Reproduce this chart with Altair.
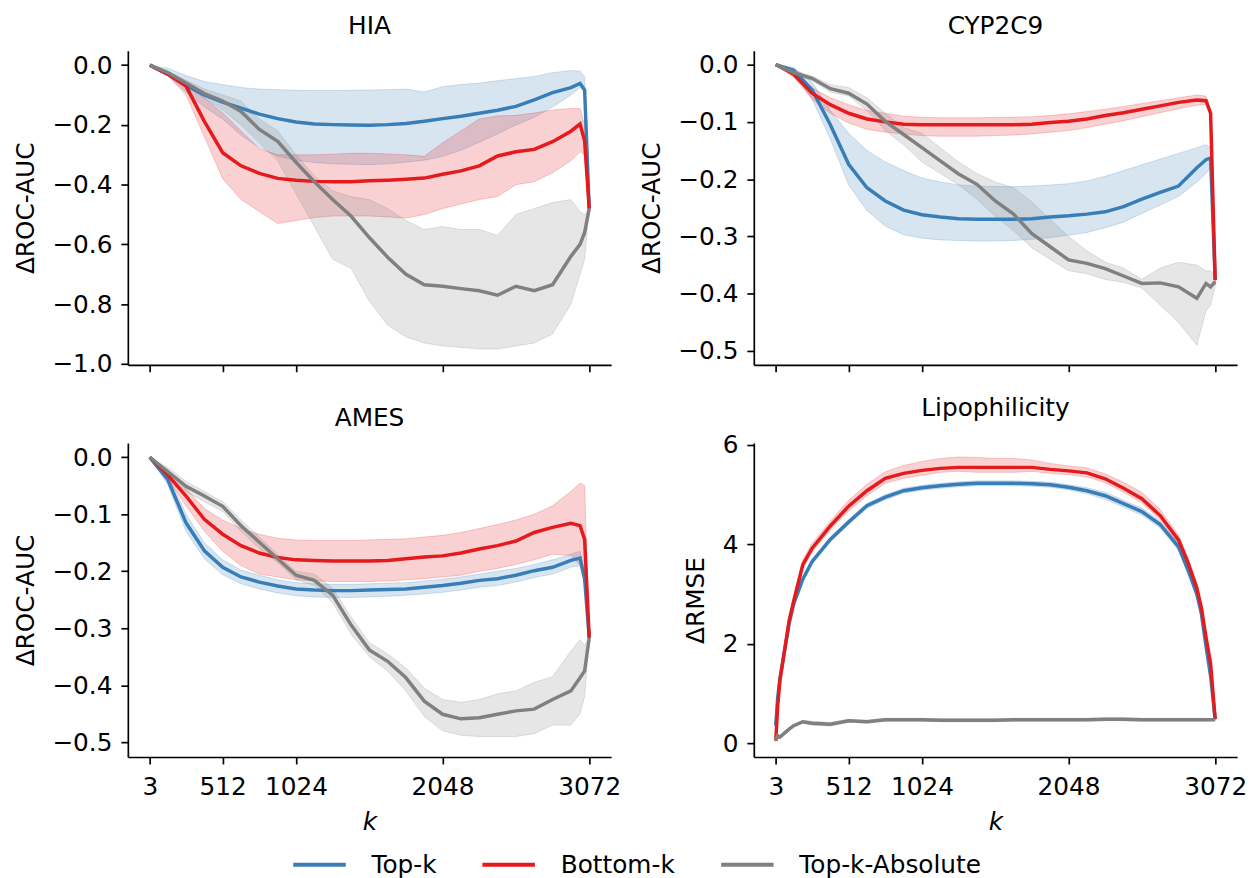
import altair as alt
import pandas as pd

# ---------------- data ----------------
METHODS = ["Top-k", "Bottom-k", "Top-k-Absolute"]
COLORS = ["#377eb8", "#e41a1c", "#808080"]
X_TICKS = [3, 512, 1024, 2048, 3072]

K_MAIN = [3, 128, 256, 384, 512, 640, 768, 896, 1024, 1152, 1280, 1408, 1536, 1664,
          1792, 1920, 2048, 2176, 2304, 2432, 2560, 2688, 2816, 2944, 3008, 3040, 3072]

# HIA
HIA_TOP = [0, -0.03, -0.068, -0.10, -0.124, -0.144, -0.164, -0.179, -0.19, -0.197, -0.199, -0.2, -0.201,
           -0.199, -0.195, -0.188, -0.179, -0.171, -0.161, -0.151, -0.138, -0.116, -0.092, -0.075, -0.061, -0.083, -0.48]
HIA_TOP_HI = [0, -0.01, -0.035, -0.055, -0.065, -0.075, -0.08, -0.082, -0.084, -0.085, -0.085, -0.084, -0.083,
              -0.082, -0.08, -0.09, -0.072, -0.065, -0.06, -0.052, -0.045, -0.038, -0.025, -0.018, -0.02, -0.04, -0.48]
HIA_TOP_LO = [0, -0.035, -0.09, -0.14, -0.18, -0.235, -0.275, -0.305, -0.318, -0.326, -0.33, -0.332, -0.333,
              -0.33, -0.325, -0.318, -0.305, -0.285, -0.258, -0.23, -0.2, -0.175, -0.14, -0.1, -0.075, -0.09, -0.48]
HIA_BOT = [0, -0.03, -0.07, -0.188, -0.293, -0.337, -0.362, -0.379, -0.385, -0.389, -0.39, -0.39, -0.387,
           -0.385, -0.382, -0.378, -0.365, -0.354, -0.337, -0.304, -0.29, -0.282, -0.256, -0.221, -0.197, -0.254, -0.48]
HIA_BOT_HI = [0, -0.025, -0.06, -0.11, -0.16, -0.22, -0.28, -0.3, -0.3, -0.3, -0.298, -0.295, -0.295,
              -0.297, -0.3, -0.305, -0.26, -0.22, -0.18, -0.17, -0.168, -0.16, -0.15, -0.145, -0.145, -0.2, -0.48]
HIA_BOT_LO = [0, -0.035, -0.1, -0.24, -0.38, -0.45, -0.49, -0.53, -0.52, -0.51, -0.505, -0.505, -0.505,
              -0.508, -0.512, -0.5, -0.48, -0.465, -0.45, -0.44, -0.4, -0.39, -0.36, -0.32, -0.29, -0.3, -0.48]
HIA_ABS = [0, -0.025, -0.06, -0.095, -0.12, -0.155, -0.215, -0.255, -0.325, -0.39, -0.45, -0.505, -0.577,
           -0.643, -0.7, -0.735, -0.74, -0.748, -0.755, -0.77, -0.74, -0.755, -0.735, -0.64, -0.6, -0.56, -0.48]
HIA_ABS_HI = [0, -0.02, -0.05, -0.08, -0.1, -0.12, -0.18, -0.22, -0.3, -0.37, -0.42, -0.44, -0.45,
              -0.48, -0.52, -0.55, -0.54, -0.55, -0.55, -0.57, -0.5, -0.48, -0.46, -0.45, -0.49, -0.5, -0.48]
HIA_ABS_LO = [0, -0.03, -0.07, -0.11, -0.15, -0.2, -0.26, -0.32, -0.43, -0.54, -0.65, -0.68, -0.79,
              -0.87, -0.91, -0.93, -0.94, -0.945, -0.95, -0.95, -0.94, -0.93, -0.9, -0.8, -0.7, -0.65, -0.48]

# CYP2C9
CYP_TOP = [0, -0.01, -0.044, -0.105, -0.174, -0.215, -0.238, -0.254, -0.262, -0.266, -0.269, -0.27, -0.27,
           -0.27, -0.269, -0.266, -0.264, -0.261, -0.257, -0.248, -0.235, -0.223, -0.212, -0.18, -0.166, -0.163, -0.376]
CYP_TOP_HI = [0, -0.005, -0.03, -0.08, -0.12, -0.15, -0.17, -0.185, -0.198, -0.205, -0.21, -0.212, -0.213,
              -0.213, -0.212, -0.21, -0.208, -0.203, -0.195, -0.185, -0.175, -0.165, -0.155, -0.145, -0.14, -0.145, -0.37]
CYP_TOP_LO = [0, -0.015, -0.06, -0.13, -0.21, -0.255, -0.282, -0.297, -0.303, -0.306, -0.307, -0.308, -0.308,
              -0.307, -0.305, -0.302, -0.298, -0.293, -0.285, -0.275, -0.26, -0.245, -0.23, -0.205, -0.19, -0.18, -0.38]
CYP_BOT = [0, -0.017, -0.05, -0.07, -0.085, -0.095, -0.1, -0.104, -0.105, -0.105, -0.105, -0.105, -0.105,
           -0.105, -0.104, -0.101, -0.099, -0.095, -0.089, -0.084, -0.078, -0.072, -0.066, -0.062, -0.063, -0.085, -0.376]
CYP_BOT_HI = [0, -0.012, -0.04, -0.058, -0.07, -0.08, -0.085, -0.09, -0.092, -0.093, -0.093, -0.093, -0.092,
              -0.092, -0.091, -0.089, -0.086, -0.082, -0.078, -0.073, -0.068, -0.063, -0.058, -0.053, -0.055, -0.08, -0.37]
CYP_BOT_LO = [0, -0.022, -0.06, -0.085, -0.102, -0.113, -0.118, -0.121, -0.124, -0.125, -0.125, -0.125, -0.124,
              -0.123, -0.121, -0.118, -0.115, -0.11, -0.104, -0.098, -0.091, -0.084, -0.077, -0.071, -0.07, -0.09, -0.385]
CYP_ABS = [0, -0.014, -0.024, -0.042, -0.05, -0.069, -0.099, -0.122, -0.145, -0.168, -0.191, -0.209, -0.238,
           -0.261, -0.295, -0.318, -0.341, -0.347, -0.356, -0.369, -0.382, -0.381, -0.388, -0.408, -0.382, -0.388, -0.379]
CYP_ABS_HI = [0, -0.01, -0.02, -0.035, -0.04, -0.058, -0.085, -0.11, -0.12, -0.145, -0.17, -0.19, -0.205,
              -0.215, -0.24, -0.27, -0.3, -0.325, -0.345, -0.355, -0.375, -0.355, -0.345, -0.35, -0.36, -0.36, -0.37]
CYP_ABS_LO = [0, -0.018, -0.028, -0.048, -0.055, -0.08, -0.115, -0.14, -0.17, -0.19, -0.21, -0.235, -0.265,
              -0.29, -0.32, -0.34, -0.36, -0.365, -0.375, -0.38, -0.39, -0.42, -0.45, -0.49, -0.43, -0.42, -0.385]

# AMES
AMES_TOP = [0, -0.039, -0.115, -0.164, -0.193, -0.21, -0.219, -0.226, -0.231, -0.233, -0.234, -0.234, -0.233,
            -0.232, -0.231, -0.228, -0.225, -0.221, -0.216, -0.213, -0.207, -0.199, -0.193, -0.181, -0.177, -0.213, -0.317]
AMES_TOP_HI = [0, -0.03, -0.1, -0.15, -0.18, -0.198, -0.207, -0.215, -0.22, -0.222, -0.223, -0.223, -0.222,
               -0.221, -0.22, -0.217, -0.214, -0.21, -0.205, -0.2, -0.195, -0.188, -0.18, -0.17, -0.165, -0.2, -0.315]
AMES_TOP_LO = [0, -0.048, -0.13, -0.178, -0.206, -0.222, -0.231, -0.238, -0.243, -0.245, -0.246, -0.246, -0.245,
               -0.244, -0.242, -0.24, -0.237, -0.233, -0.228, -0.225, -0.219, -0.211, -0.205, -0.193, -0.19, -0.225, -0.32]
AMES_BOT = [0, -0.031, -0.068, -0.109, -0.135, -0.155, -0.168, -0.176, -0.18, -0.181, -0.182, -0.182, -0.182,
            -0.181, -0.178, -0.175, -0.173, -0.168, -0.161, -0.155, -0.147, -0.132, -0.123, -0.116, -0.12, -0.144, -0.317]
AMES_BOT_HI = [0, -0.025, -0.055, -0.09, -0.11, -0.125, -0.135, -0.142, -0.145, -0.146, -0.146, -0.146, -0.145,
               -0.144, -0.143, -0.14, -0.137, -0.132, -0.125, -0.118, -0.11, -0.1, -0.085, -0.06, -0.045, -0.05, -0.315]
AMES_BOT_LO = [0, -0.038, -0.085, -0.13, -0.165, -0.19, -0.205, -0.21, -0.215, -0.217, -0.218, -0.218, -0.218,
               -0.217, -0.215, -0.213, -0.21, -0.207, -0.2, -0.195, -0.188, -0.18, -0.17, -0.172, -0.19, -0.22, -0.32]
AMES_ABS = [0, -0.025, -0.051, -0.068, -0.086, -0.12, -0.149, -0.178, -0.207, -0.216, -0.242, -0.294, -0.338,
            -0.358, -0.387, -0.428, -0.451, -0.459, -0.457, -0.451, -0.445, -0.442, -0.425, -0.41, -0.387, -0.375, -0.317]
AMES_ABS_HI = [0, -0.018, -0.042, -0.06, -0.078, -0.11, -0.14, -0.17, -0.2, -0.205, -0.23, -0.28, -0.325,
               -0.345, -0.37, -0.405, -0.425, -0.43, -0.425, -0.415, -0.41, -0.395, -0.385, -0.34, -0.32, -0.33, -0.315]
AMES_ABS_LO = [0, -0.03, -0.06, -0.078, -0.095, -0.13, -0.16, -0.185, -0.215, -0.225, -0.255, -0.31, -0.35,
               -0.375, -0.41, -0.455, -0.48, -0.488, -0.49, -0.49, -0.49, -0.485, -0.47, -0.47, -0.45, -0.42, -0.32]

# Lipophilicity
K_LIPO = [3, 16, 32, 64, 96, 128, 192, 256, 384, 512, 640, 768, 896, 1024, 1152, 1280, 1408, 1536, 1664,
          1792, 1920, 2048, 2176, 2304, 2432, 2560, 2688, 2816, 2880, 2944, 2976, 3008, 3040, 3072]
LIPO_TOP = [0.35, 0.9, 1.3, 1.85, 2.4, 2.8, 3.3, 3.65, 4.1, 4.45, 4.78, 4.95, 5.08, 5.14, 5.18, 5.21, 5.23,
            5.23, 5.23, 5.22, 5.2, 5.15, 5.08, 4.98, 4.82, 4.66, 4.4, 3.95, 3.5, 3.0, 2.6, 1.95, 1.35, 0.48]
LIPO_TOP_HI = [0.4, 0.95, 1.35, 1.9, 2.45, 2.85, 3.35, 3.7, 4.15, 4.5, 4.83, 5.0, 5.13, 5.19, 5.23, 5.26, 5.28,
               5.28, 5.28, 5.27, 5.25, 5.2, 5.14, 5.05, 4.89, 4.73, 4.47, 4.02, 3.56, 3.06, 2.65, 2.0, 1.4, 0.48]
LIPO_TOP_LO = [0.3, 0.85, 1.25, 1.8, 2.35, 2.75, 3.25, 3.6, 4.05, 4.4, 4.73, 4.9, 5.03, 5.09, 5.13, 5.16, 5.18,
               5.18, 5.18, 5.17, 5.15, 5.1, 5.02, 4.91, 4.75, 4.59, 4.33, 3.88, 3.44, 2.94, 2.55, 1.9, 1.3, 0.48]
LIPO_BOT = [0.05, 0.73, 1.26, 1.86, 2.46, 2.86, 3.59, 3.92, 4.37, 4.77, 5.08, 5.33, 5.43, 5.49, 5.53, 5.55, 5.55,
            5.55, 5.55, 5.55, 5.51, 5.48, 5.44, 5.32, 5.13, 4.92, 4.58, 4.09, 3.65, 3.12, 2.72, 2.13, 1.6, 0.48]
LIPO_BOT_HI = [0.05, 0.78, 1.34, 1.96, 2.56, 2.96, 3.69, 4.02, 4.47, 4.89, 5.21, 5.46, 5.59, 5.67, 5.73, 5.76, 5.75,
               5.73, 5.73, 5.7, 5.63, 5.58, 5.54, 5.42, 5.25, 5.05, 4.7, 4.19, 3.75, 3.22, 2.82, 2.23, 1.7, 0.48]
LIPO_BOT_LO = [0.05, 0.68, 1.18, 1.78, 2.38, 2.78, 3.51, 3.84, 4.29, 4.67, 4.98, 5.23, 5.33, 5.39, 5.45, 5.47, 5.45,
               5.45, 5.45, 5.47, 5.43, 5.4, 5.36, 5.24, 5.05, 4.84, 4.5, 4.01, 3.57, 3.04, 2.64, 2.05, 1.52, 0.48]
LIPO_ABS = [0.05, 0.15, 0.12, 0.2, 0.28, 0.35, 0.43, 0.4, 0.38, 0.45, 0.43, 0.47, 0.47, 0.47, 0.46, 0.46, 0.46,
            0.46, 0.47, 0.47, 0.47, 0.47, 0.47, 0.48, 0.48, 0.47, 0.47, 0.47, 0.47, 0.47, 0.47, 0.47, 0.47, 0.47]
LIPO_ABS_HI = [0.08, 0.18, 0.15, 0.23, 0.31, 0.38, 0.46, 0.44, 0.42, 0.48, 0.46, 0.5, 0.5, 0.5, 0.49, 0.49, 0.49,
               0.49, 0.5, 0.5, 0.5, 0.5, 0.5, 0.51, 0.51, 0.5, 0.5, 0.5, 0.5, 0.5, 0.5, 0.5, 0.5, 0.48]
LIPO_ABS_LO = [0.02, 0.12, 0.09, 0.17, 0.25, 0.32, 0.4, 0.36, 0.34, 0.42, 0.4, 0.44, 0.44, 0.44, 0.43, 0.43, 0.43,
               0.43, 0.44, 0.44, 0.44, 0.44, 0.44, 0.45, 0.45, 0.44, 0.44, 0.44, 0.44, 0.44, 0.44, 0.44, 0.44, 0.46]

# ---------------- chart ----------------
FONT = "DejaVu Sans"
FS = 25
PW, PH = 488, 317
X_DOMAIN = [-150.45, 3225.45]

color_scale = alt.Scale(domain=METHODS, range=COLORS)


def make_df(ks, series):
    rows = []
    for method, (m, lo, hi) in zip(METHODS, series):
        for k, a, b, c in zip(ks, m, lo, hi):
            rows.append({"k": k, "mean": a, "lo": b, "hi": c, "method": method})
    return pd.DataFrame(rows)


def panel(title, ks, series, ydomain, yticks, yfmt, ytitle, bottom):
    df = make_df(ks, series)
    xaxis = alt.Axis(values=X_TICKS, format="d", labels=bottom, title="k" if bottom else None,
                     titleFontStyle="italic", labelFlush=False, labelOverlap=False,
                     labelPadding=11, titlePadding=10)
    yaxis = alt.Axis(values=yticks, format=yfmt, title=ytitle, labelOverlap=False,
                     labelPadding=9, titlePadding=14)
    xs = alt.Scale(domain=X_DOMAIN, nice=False, zero=False)
    ys = alt.Scale(domain=ydomain, nice=False, zero=False)
    layers = []
    for method, col in zip(METHODS, COLORS):
        layers.append(
            alt.Chart(df).transform_filter(alt.datum.method == method).mark_area(
                color=col, fillOpacity=0.2, stroke=col, strokeOpacity=0.22, strokeWidth=1
            ).encode(
                x=alt.X("k:Q", scale=xs, axis=xaxis),
                y=alt.Y("lo:Q", scale=ys, axis=yaxis),
                y2="hi:Q",
            )
        )
    line = alt.Chart(df).mark_line(strokeWidth=3.5).encode(
        x=alt.X("k:Q", scale=xs, axis=xaxis),
        y=alt.Y("mean:Q", scale=ys, axis=yaxis),
        color=alt.Color("method:N", scale=color_scale,
                        legend=alt.Legend(title=None, orient="none", direction="horizontal",
                                          legendX=165, legendY=793)),
    )
    layers.append(line)
    return alt.layer(*layers).properties(
        width=PW, height=PH,
        title=alt.TitleParams(title, font=FONT, fontSize=FS, fontWeight="normal", offset=12, color="black"),
    )


p1 = panel("HIA", K_MAIN, [(HIA_TOP, HIA_TOP_LO, HIA_TOP_HI), (HIA_BOT, HIA_BOT_LO, HIA_BOT_HI),
                           (HIA_ABS, HIA_ABS_LO, HIA_ABS_HI)],
           [-1.003, 0.048], [0, -0.2, -0.4, -0.6, -0.8, -1.0], ".1f", "ΔROC-AUC", False)
p2 = panel("CYP2C9", K_MAIN, [(CYP_TOP, CYP_TOP_LO, CYP_TOP_HI), (CYP_BOT, CYP_BOT_LO, CYP_BOT_HI),
                              (CYP_ABS, CYP_ABS_LO, CYP_ABS_HI)],
           [-0.524, 0.024], [0, -0.1, -0.2, -0.3, -0.4, -0.5], ".1f", "ΔROC-AUC", False)
p3 = panel("AMES", K_MAIN, [(AMES_TOP, AMES_TOP_LO, AMES_TOP_HI), (AMES_BOT, AMES_BOT_LO, AMES_BOT_HI),
                            (AMES_ABS, AMES_ABS_LO, AMES_ABS_HI)],
           [-0.526, 0.025], [0, -0.1, -0.2, -0.3, -0.4, -0.5], ".1f", "ΔROC-AUC", True)
p4 = panel("Lipophilicity", K_LIPO, [(LIPO_TOP, LIPO_TOP_LO, LIPO_TOP_HI), (LIPO_BOT, LIPO_BOT_LO, LIPO_BOT_HI),
                                     (LIPO_ABS, LIPO_ABS_LO, LIPO_ABS_HI)],
           [-0.28, 6.04], [0, 2, 4, 6], "d", "ΔRMSE", True)

chart = alt.concat(p1, p2, p3, p4, columns=2, spacing={"row": 79, "column": 144}, bounds="flush").resolve_scale(
    color="shared"
).resolve_legend(color="shared").configure_view(stroke=None).configure_axis(
    labelFont=FONT, labelFontSize=FS, titleFont=FONT, titleFontSize=FS, titleFontWeight="normal",
    labelColor="black", titleColor="black", domainColor="black", tickColor="black",
    domainWidth=1.7, tickWidth=1.7, tickSize=7, grid=False,
).configure_legend(
    labelFont=FONT, labelFontSize=FS, labelColor="black", labelLimit=400, symbolType="stroke",
    symbolSize=2809, symbolStrokeWidth=4, labelOffset=24, columnPadding=38, padding=0,
).properties(padding={"left": 5, "top": 2, "right": 5, "bottom": 5})

chart.save("out.html", embed_options={"renderer": "svg", "actions": False})
